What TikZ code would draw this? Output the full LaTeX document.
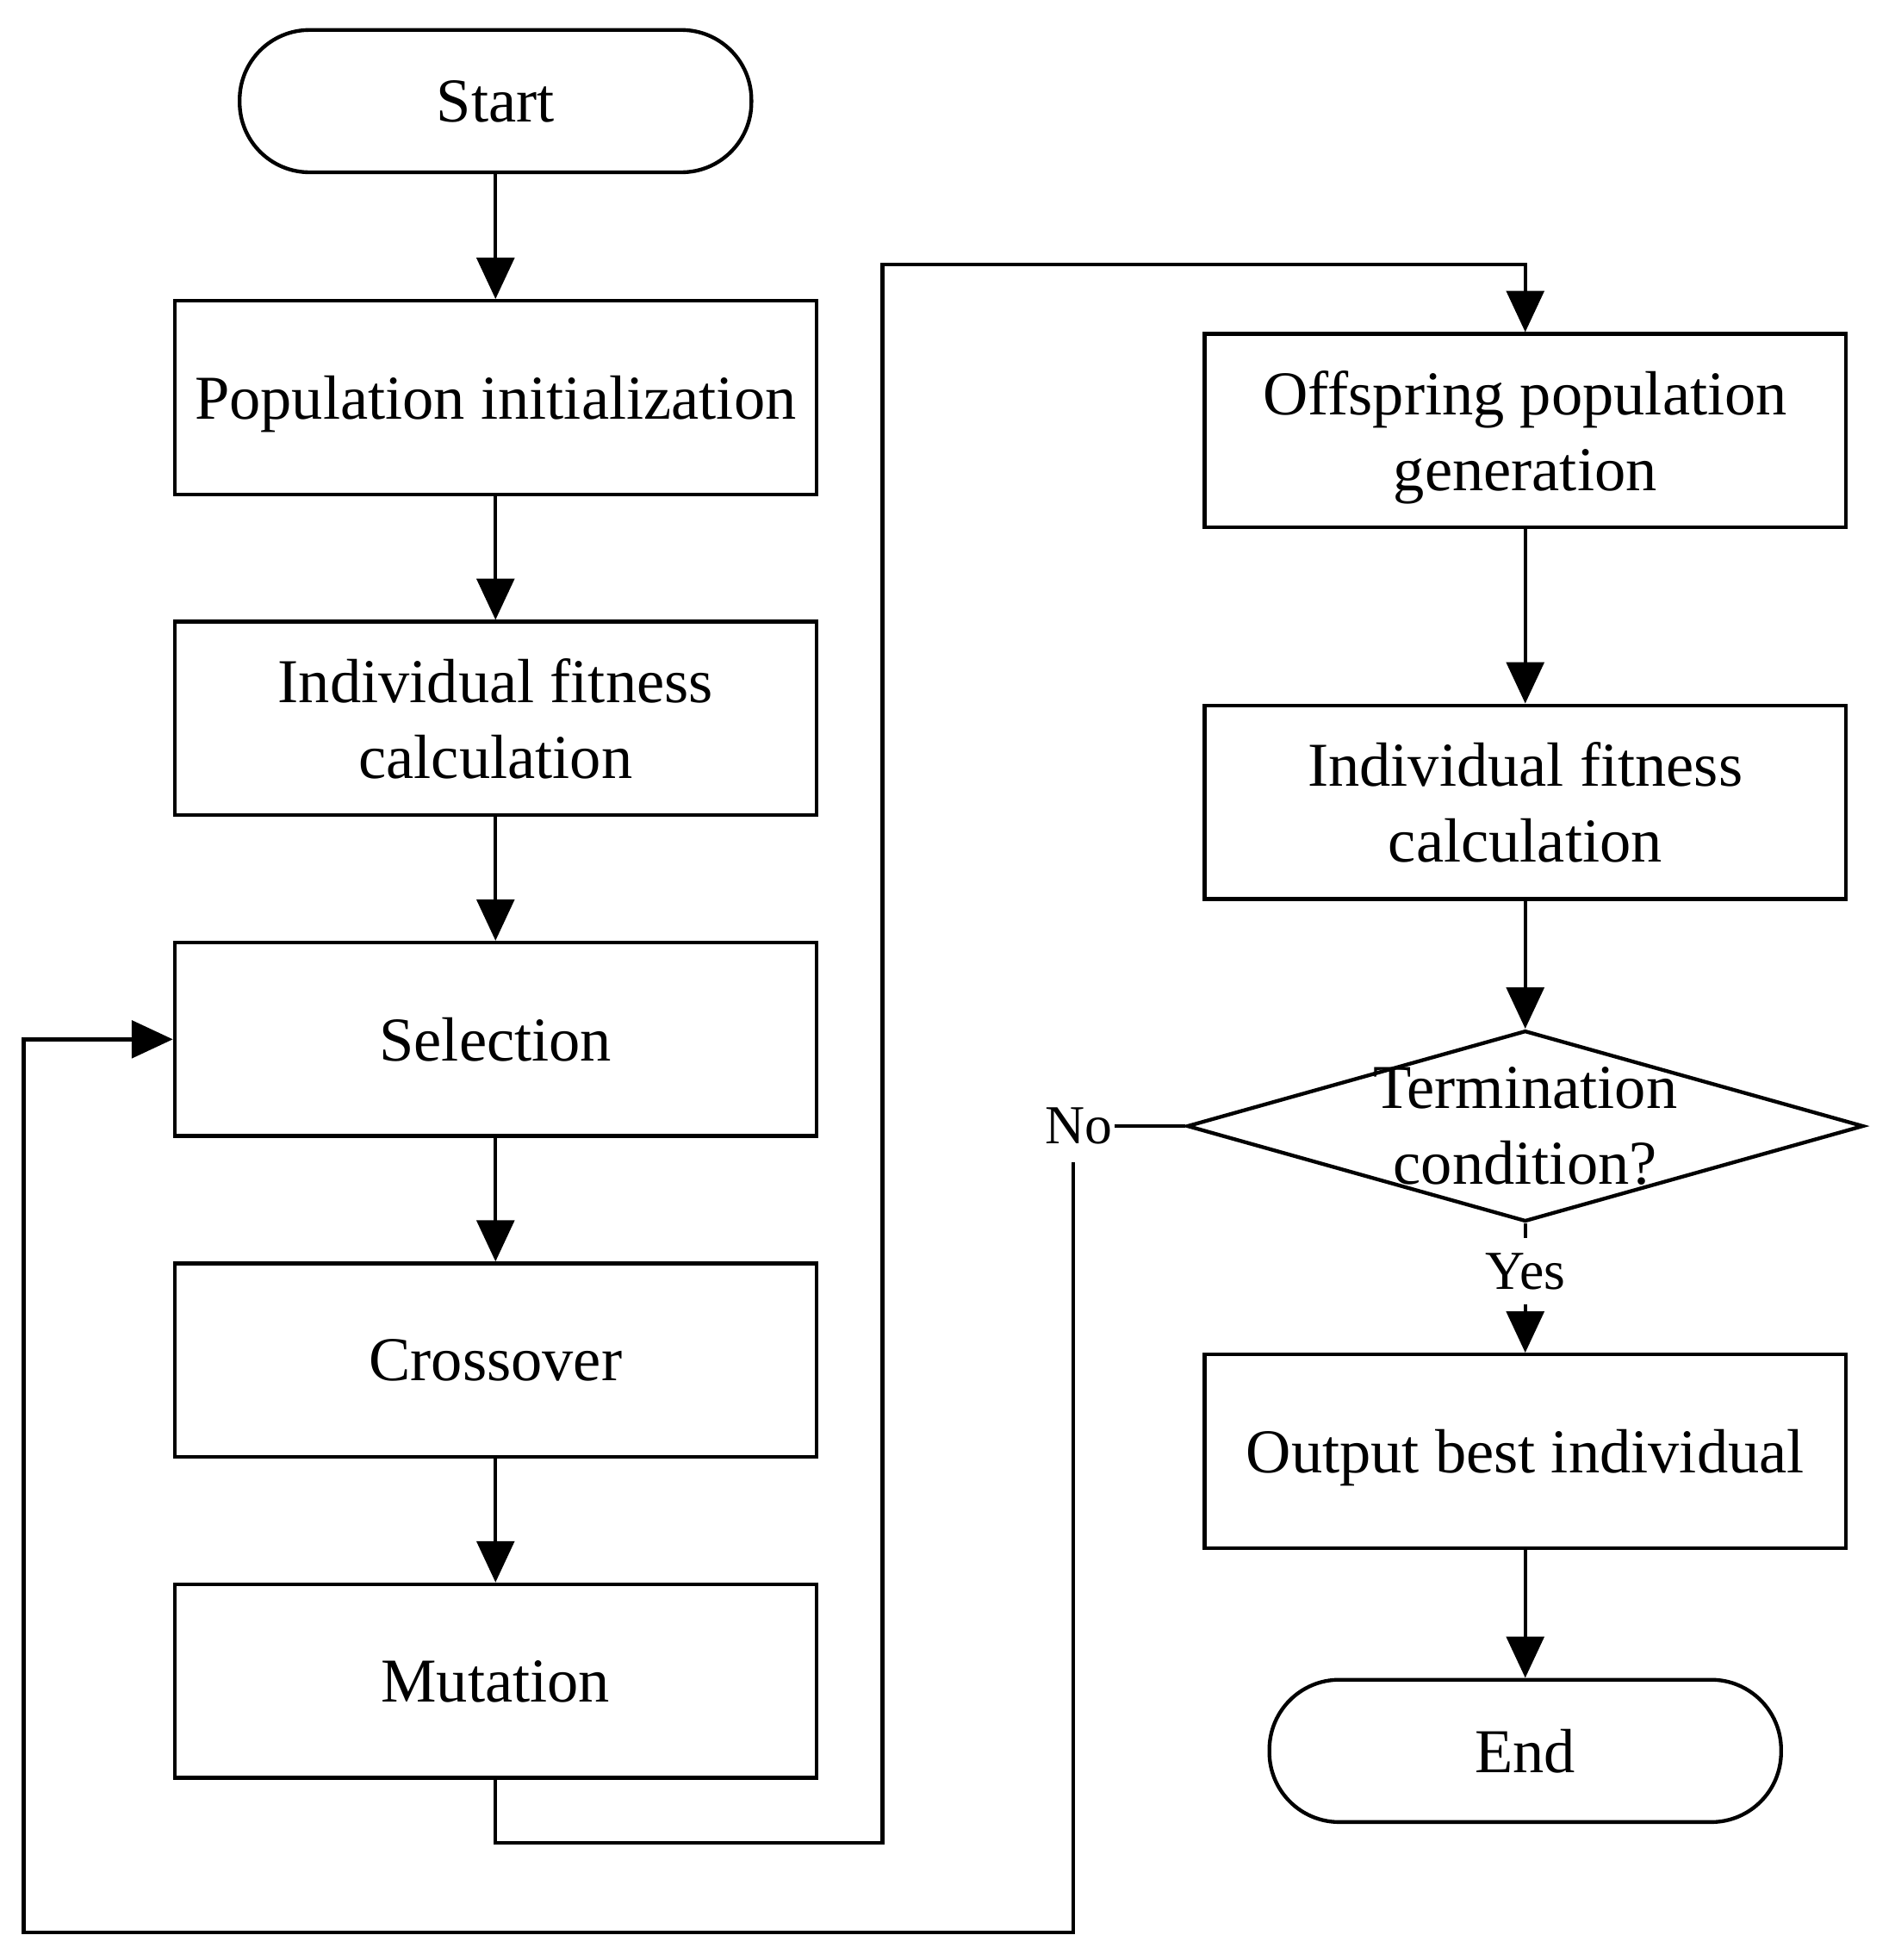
\documentclass[tikz,border=0pt]{standalone}
\usepackage{fontspec}
\setmainfont{Liberation Serif}
\usetikzlibrary{arrows.meta,shapes.geometric}
\begin{document}
\begin{tikzpicture}[x=0.5pt,y=-0.5pt,
  every node/.style={font=\fontsize{25pt}{30.5pt}\selectfont},
  procbox/.style={draw, line width=1.5pt, minimum width=257pt, minimum height=77.5pt, align=center, inner sep=0pt, text depth=0pt},
  termbox/.style={draw, line width=1.5pt, rounded corners=28pt, minimum width=205pt, minimum height=57pt, inner sep=0pt},
  decbox/.style={draw, diamond, line width=1.5pt, minimum width=271pt, minimum height=76.5pt, inner sep=0pt},
  conn/.style={line width=1.5pt, -{Triangle[length=16.5pt,width=15pt]}},
  lbl/.style={fill=white, font=\fontsize{22pt}{26pt}\selectfont, inner xsep=1pt}
]
\useasboundingbox (0,0) rectangle (1518,1570);

\node[termbox] (start) at (397,81) {Start};
\node[procbox] (pop) at (397,318.5) {Population initialization};
\node[procbox] (fit1) at (397,575.5) {Individual fitness\\calculation};
\node[procbox] (sel) at (397,832.5) {Selection};
\node[procbox] (cross) at (397,1089.5) {Crossover};
\node[procbox] (mut) at (397,1346.5) {Mutation};

\node[procbox] (off) at (1222,345) {Offspring population\\generation};
\node[procbox] (fit2) at (1222,642.5) {Individual fitness\\calculation};
\node[decbox] (term) at (1222,902) {};
\node[align=center, inner sep=0pt] (termtxt) at (1222,902) {Termination\\condition?};
\node[procbox] (out) at (1222,1162.5) {Output best individual};
\node[termbox] (end) at (1222,1402.5) {End};

\draw[conn] (start) -- (pop);
\draw[conn] (pop) -- (fit1);
\draw[conn] (fit1) -- (sel);
\draw[conn] (sel) -- (cross);
\draw[conn] (cross) -- (mut);

\coordinate (m1) at (397,1476);
\coordinate (m2) at (707,1476);
\coordinate (m3) at (707,212);
\coordinate (m4) at (1222,212);
\draw[conn] (mut.south) -- (m1) -- (m2) -- (m3) -- (m4) -- (off.north);

\draw[conn] (off) -- (fit2);
\draw[conn] (fit2) -- (term);
\draw[conn] (term.south) -- node[lbl, pos=0.37, inner ysep=6pt] (yes) {Yes} (out.north);
\draw[conn] (out) -- (end);

\coordinate (nocorner) at (860,902);
\coordinate (b1) at (860,1548);
\coordinate (b2) at (19,1548);
\coordinate (b3) at (19,832.5);
\draw[conn] (term.west) -- (nocorner) -- (b1) -- (b2) -- (b3) -- (sel.west);
\node[lbl, inner ysep=7pt] (no) at (864,902) {No};
\end{tikzpicture}
\end{document}
